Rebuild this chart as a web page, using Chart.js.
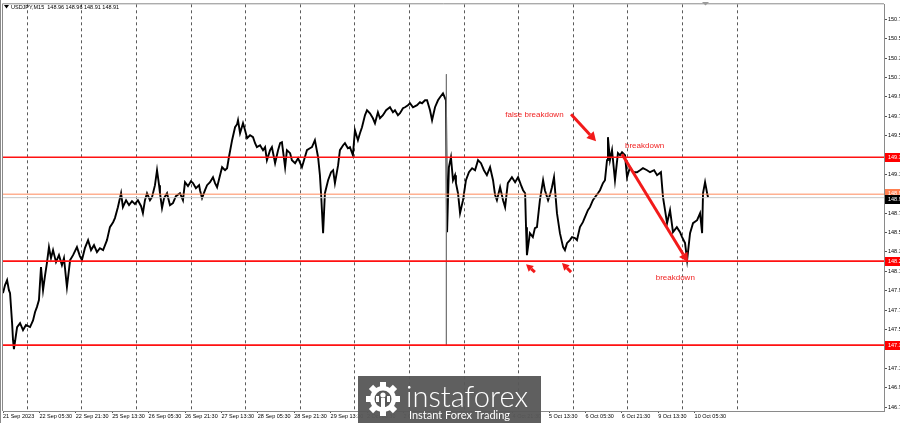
<!DOCTYPE html>
<html>
<head>
<meta charset="utf-8">
<title>USDJPY M15</title>
<script src="https://cdn.jsdelivr.net/npm/chart.js@4.4.0/dist/chart.umd.min.js"></script>
<style>
  html, body { margin: 0; padding: 0; background: #fff; }
  #wrap { position: relative; width: 900px; height: 423px; }
</style>
</head>
<body>
<div id="wrap"><canvas id="chart"></canvas></div>
<script>
// trading hours counted from 21 Sep 13:30 (weekends skipped)
const priceHours = [0,0.9,1.8,2.6,3.1,4.0,4.4,4.8,5.7,6.2,7.5,8.8,10.1,11.9,13.2,14.1,14.9,15.8,16.7,17.6,18.5,19.3,20.2,21.1,22.0,23.3,24.6,25.9,26.8,28.1,29.5,30.8,32.5,33.8,34.7,36.0,37.4,38.7,40.0,41.3,42.6,44.0,45.7,47.0,48.4,49.2,50.5,51.9,52.7,54.1,55.4,56.7,58.0,59.3,60.7,61.5,62.4,63.3,64.6,65.5,66.8,67.7,68.6,69.0,69.9,70.8,72.1,73.4,74.7,76.0,77.8,79.1,80.0,81.3,82.6,83.5,84.8,86.2,86.6,87.5,88.8,89.7,91.0,92.3,93.2,94.1,95.4,96.3,97.6,98.5,99.3,100.7,102.0,102.9,103.3,104.2,105.5,106.4,107.3,108.6,109.9,110.8,111.6,113.0,114.3,115.2,116.0,117.4,118.2,119.6,120.9,121.8,122.6,124.0,124.8,126.2,127.0,128.4,129.7,131.4,132.3,133.6,134.9,135.8,137.1,138.5,139.3,139.8,140.7,141.5,142.9,144.2,145.1,145.9,147.3,148.1,149.5,150.3,151.6,152.5,153.8,154.7,156.0,156.9,157.8,159.1,160.0,161.3,162.6,163.5,164.8,165.7,167.0,168.4,170.1,171.4,172.3,173.6,174.5,175.8,176.7,178.0,178.9,180.2,182.0,183.3,184.2,185.5,186.4,187.7,188.6,189.9,191.2,192.1,193.4,194.7,
  195.2,196.0,196.9,197.8,198.7,199.1,200.0,200.9,202.2,203.5,204.8,206.2,207.5,208.8,210.1,211.4,212.7,214.1,215.4,216.3,217.1,218.5,219.8,220.7,221.9,223.7,225.1,226.4,227.7,228.6,229.5,229.9,230.3,231.6,232.9,233.8,234.7,236.0,237.4,238.2,239.6,240.4,241.3,242.2,243.5,244.8,246.2,247.0,247.9,249.2,250.1,251.4,252.3,253.6,254.9,255.8,257.1,258.0,259.3,260.2,261.5,262.4,263.7,264.6,265.5,265.9,266.8,267.7,269.0,270.3,271.2,272.1,273.4,274.3,275.6,277.0,278.7,280.0,281.3,283.1,284.4,286.2,287.5,289.2,290.1,291.0,291.9,293.2,294.5,296.2,297.6,298.5,299.8,300.7,302.0,303.3,305.1,306.4,307.3,307.7,308.6,309.5,309.9];

const prices = [147.925,148.008,148.060,147.956,147.925,147.616,147.441,147.348,147.493,147.575,147.616,147.544,147.596,147.575,147.643,147.730,147.781,147.853,148.194,147.956,148.111,148.235,148.400,148.286,148.369,148.245,148.317,148.214,148.286,147.987,148.266,148.317,148.400,148.307,148.266,148.389,148.472,148.369,148.420,148.348,148.389,148.369,148.472,148.606,148.657,148.699,148.812,148.956,148.812,148.884,148.833,148.874,148.843,148.884,148.822,148.750,148.884,148.956,148.884,148.915,149.039,149.193,149.039,148.956,148.802,148.905,148.956,148.833,148.853,148.925,148.956,148.884,149.070,149.029,149.080,149.060,149.008,149.039,148.987,148.905,148.987,149.039,149.070,149.121,149.060,149.018,149.142,149.224,149.193,149.214,149.327,149.503,149.637,149.668,149.709,149.575,149.678,149.606,149.523,149.554,149.534,149.472,149.431,149.451,149.400,149.431,149.297,149.400,149.431,149.266,149.400,149.472,149.482,149.224,149.400,149.369,149.297,149.266,149.317,149.224,149.297,149.400,149.420,149.431,149.503,149.327,149.142,148.956,148.544,148.956,149.090,149.173,149.193,149.060,149.245,149.400,149.451,149.472,149.420,149.431,149.348,149.606,149.503,149.575,149.637,149.760,149.812,149.781,149.729,149.678,149.791,149.729,149.760,149.812,149.843,149.791,149.812,149.760,149.781,149.833,149.843,149.864,149.884,149.843,149.864,149.895,149.884,149.915,149.915,149.812,149.709,149.843,149.915,149.946,149.987,149.915,
  148.554,149.224,149.327,149.090,149.142,149.060,148.956,148.750,148.884,149.090,149.173,149.214,149.193,149.297,149.266,149.193,149.142,149.224,149.090,148.936,148.884,149.018,148.884,148.812,149.060,149.121,149.070,149.121,149.039,148.987,148.956,148.606,148.317,148.544,148.503,148.596,148.606,148.884,149.090,148.987,148.884,148.936,149.018,149.121,148.750,148.544,148.400,148.369,148.441,148.472,148.503,148.493,148.472,148.606,148.657,148.709,148.781,148.812,148.884,148.915,148.956,148.987,149.060,149.090,149.297,149.534,149.297,149.400,149.090,149.369,149.348,149.379,149.348,149.121,149.224,149.173,149.173,149.193,149.214,149.193,149.173,149.193,149.142,149.173,148.915,148.781,148.647,148.781,148.554,148.606,148.554,148.503,148.441,148.266,148.544,148.647,148.678,148.750,148.544,148.956,149.070,148.956,148.915];

// the 3 Oct spike bar (high, low)
const spikeHour = 194.9;
const spikeRange = [150.183, 147.389];

const labelHours = [0,16,32,48,64,80,96,112,128,144,160,176,192,208,224,240,256,272,288,304];
const tickLabels = ['21 Sep 2023','22 Sep 05:30','22 Sep 21:30','25 Sep 13:30','26 Sep 05:30','26 Sep 21:30',
  '27 Sep 13:30','28 Sep 05:30','28 Sep 21:30','29 Sep 13:30','2 Oct 05:30','2 Oct 21:30','3 Oct 13:30',
  '4 Oct 05:30','4 Oct 21:30','5 Oct 13:30','6 Oct 05:30','6 Oct 21:30','9 Oct 13:30','10 Oct 05:30'];
// day separators (midnight)
const gridHours = [10.5,34.5,58.5,82.5,106.5,130.5,154.5,178.5,202.5,226.5,250.5,274.5,298.5,322.5];
const yTicks = [146.75,146.95,147.15,147.35,147.55,147.75,147.95,148.15,148.35,148.55,148.75,148.95,149.15,149.35,149.55,149.75,149.95,150.15,150.35,150.55,150.75];

const redLevels = [149.327, 148.255, 147.389];
const orangeLevel = 148.946;
const bidLevel = 148.910;
const ohlc = ['148.96', '148.96', '148.91', '148.91'];

// arrows: [fromHour, fromPrice, toHour, toPrice]
const arrows = [
  [249.7, 149.771, 260.7, 149.492],
  [272.1, 149.358, 301.1, 148.245],
  [233.8, 148.142, 229.9, 148.224],
  [249.7, 148.142, 245.7, 148.235]
];
const notes = [
  { text: 'false breakdown', hour: 220.8, price: 149.762 },
  { text: 'breakdown', hour: 273.4, price: 149.440 },
  { text: 'breakdown', hour: 286.9, price: 148.080 }
];

const X_MAX = 387.25;
const Y_MIN = 146.709, Y_MAX = 150.905;

const priceData = priceHours.map((h, i) => ({ x: h, y: prices[i] }));
const flat = v => [{ x: 0, y: v }, { x: X_MAX, y: v }];

function drawArrow(ctx, x1, y1, x2, y2, w, head) {
  const a = Math.atan2(y2 - y1, x2 - x1);
  const bx = x2 - Math.cos(a) * head, by = y2 - Math.sin(a) * head;
  ctx.lineWidth = w;
  ctx.beginPath(); ctx.moveTo(x1, y1); ctx.lineTo(bx, by); ctx.stroke();
  ctx.beginPath();
  ctx.moveTo(x2, y2);
  ctx.lineTo(bx + Math.sin(a) * head * 0.55, by - Math.cos(a) * head * 0.55);
  ctx.lineTo(bx - Math.sin(a) * head * 0.55, by + Math.cos(a) * head * 0.55);
  ctx.closePath(); ctx.fill();
}

function axisBox(ctx, y, bg, text) {
  ctx.fillStyle = bg;
  ctx.fillRect(885, Math.round(y) - 4, 15, 9);
  ctx.fillStyle = '#fff';
  ctx.font = '5.5px "Liberation Sans"';
  ctx.textBaseline = 'middle';
  ctx.textAlign = 'left';
  ctx.fillText(text, 888, Math.round(y) + 0.5);
}

const overlay = {
  id: 'overlay',
  beforeDatasetsDraw(chart) {
    const { ctx, chartArea: a, scales: { x } } = chart;
    ctx.save();
    ctx.strokeStyle = '#5a5a5a';
    ctx.lineWidth = 1;
    ctx.setLineDash([3, 3]);
    gridHours.forEach(h => {
      const px = Math.round(x.getPixelForValue(h)) + 0.5;
      ctx.beginPath(); ctx.moveTo(px, a.top); ctx.lineTo(px, a.bottom); ctx.stroke();
    });
    ctx.restore();
  },
  afterDatasetsDraw(chart) {
    const { ctx, scales: { x, y } } = chart;
    ctx.save();
    ctx.strokeStyle = '#f21a1a';
    ctx.fillStyle = '#f21a1a';
    ctx.lineCap = 'butt';
    arrows.forEach((r, i) => {
      const big = i < 2;
      drawArrow(ctx, x.getPixelForValue(r[0]), y.getPixelForValue(r[1]),
        x.getPixelForValue(r[2]), y.getPixelForValue(r[3]), 3, big ? 9 : 7);
    });
    ctx.font = '8px "Liberation Sans"';
    ctx.textBaseline = 'middle';
    ctx.textAlign = 'left';
    ctx.fillStyle = '#f02222';
    notes.forEach(n => ctx.fillText(n.text, x.getPixelForValue(n.hour), y.getPixelForValue(n.price)));
    ctx.restore();
  },
  afterDraw(chart) {
    const { ctx, chartArea: a, scales: { y } } = chart;
    ctx.save();
    // frame
    ctx.strokeStyle = '#8a8a8a';
    ctx.lineWidth = 1;
    ctx.beginPath();
    ctx.moveTo(a.left - 0.5, a.bottom); ctx.lineTo(a.left - 0.5, a.top - 0.5); ctx.lineTo(a.right, a.top - 0.5);
    ctx.stroke();
    ctx.beginPath(); ctx.moveTo(0.5, 0); ctx.lineTo(0.5, 423); ctx.stroke();

    // price labels on the axis
    redLevels.forEach(v => axisBox(ctx, y.getPixelForValue(v), '#ff0000', v.toFixed(3)));
    axisBox(ctx, y.getPixelForValue(orangeLevel) - 1, '#ff7f50', orangeLevel.toFixed(3));
    axisBox(ctx, y.getPixelForValue(bidLevel) + 1, '#000', bidLevel.toFixed(3));

    // symbol caption
    ctx.fillStyle = '#000';
    ctx.beginPath(); ctx.moveTo(4, 5); ctx.lineTo(9, 5); ctx.lineTo(6.5, 8.5); ctx.closePath(); ctx.fill();
    ctx.font = '5.5px "Liberation Sans"';
    ctx.textBaseline = 'middle';
    ctx.textAlign = 'left';
    ctx.fillText('USDJPY,M15  ' + ohlc.join(' '), 11, 7);

    // chart shift marker
    ctx.fillStyle = '#9a9a9a';
    ctx.beginPath(); ctx.moveTo(702, 2); ctx.lineTo(709, 2); ctx.lineTo(705.5, 5.5); ctx.closePath(); ctx.fill();

    // watermark
    ctx.fillStyle = 'rgba(88,88,88,0.96)';
    ctx.fillRect(358, 376, 183, 47);
    const cx = 383, cy = 399;
    ctx.fillStyle = '#fff';
    for (let k = 0; k < 8; k++) {
      const t = k * Math.PI / 4;
      ctx.save(); ctx.translate(cx, cy); ctx.rotate(t);
      ctx.fillRect(-3, -17, 6, 6);
      ctx.restore();
    }
    ctx.beginPath(); ctx.arc(cx, cy, 13, 0, Math.PI * 2); ctx.fill();
    ctx.fillStyle = 'rgb(88,88,88)';
    ctx.beginPath(); ctx.arc(cx, cy, 8.5, 0, Math.PI * 2); ctx.fill();
    ctx.fillStyle = '#fff';
    ctx.beginPath(); ctx.arc(cx, cy - 4, 2.6, 0, Math.PI * 2); ctx.fill();
    ctx.fillRect(cx - 2, cy - 1, 4, 12);
    ctx.fillRect(cx - 7, cy - 3, 3, 6);
    ctx.fillRect(cx + 4, cy - 3, 3, 6);
    ctx.font = '300 29px Lato';
    ctx.textBaseline = 'alphabetic';
    ctx.fillText('instaforex', 406, 407, 129);
    ctx.font = '11px Lato';
    ctx.fillText('Instant Forex Trading', 409, 419, 101);
    ctx.restore();
  }
};

Chart.defaults.font.family = '"Liberation Sans", Arial, sans-serif';

new Chart(document.getElementById('chart'), {
  type: 'line',
  data: {
    datasets: [
      { data: flat(bidLevel), borderColor: '#c8c8c8', borderWidth: 1 },
      { data: flat(orangeLevel), borderColor: '#ff8a5c', borderWidth: 1 },
      ...redLevels.map(v => ({ data: flat(v), borderColor: '#ff1111', borderWidth: 1.7 })),
      { data: [{ x: spikeHour, y: spikeRange[0] }, { x: spikeHour, y: spikeRange[1] }], borderColor: '#777', borderWidth: 1 },
      { data: priceData, borderColor: '#000', borderWidth: 1.9 }
    ]
  },
  options: {
    responsive: true,
    maintainAspectRatio: false,
    animation: false,
    events: [],
    layout: { padding: { left: 3, top: 4, right: 0, bottom: 0 } },
    elements: { point: { radius: 0 }, line: { tension: 0, borderJoinStyle: 'miter' } },
    plugins: { legend: { display: false }, tooltip: { enabled: false } },
    scales: {
      x: {
        type: 'linear',
        min: 0,
        max: X_MAX,
        afterBuildTicks: s => { s.ticks = labelHours.map(v => ({ value: v })); },
        afterFit: s => { s.height = 12; },
        grid: { drawOnChartArea: false, drawTicks: true, tickLength: 2, color: '#555' },
        border: { display: true, color: '#8a8a8a' },
        ticks: {
          autoSkip: false, maxRotation: 0, align: 'start', padding: 0,
          color: '#000', font: { size: 5.5 },
          callback: v => tickLabels[labelHours.indexOf(v)] || ''
        }
      },
      y: {
        type: 'linear',
        position: 'right',
        min: Y_MIN,
        max: Y_MAX,
        afterBuildTicks: s => { s.ticks = yTicks.map(v => ({ value: v })); },
        afterFit: s => { s.width = 16; },
        grid: { drawOnChartArea: false, drawTicks: true, tickLength: 3, color: '#555' },
        border: { display: true, color: '#8a8a8a' },
        ticks: {
          autoSkip: false, padding: 1, color: '#000', font: { size: 5.5 },
          callback: v => v.toFixed(3)
        }
      }
    }
  },
  plugins: [overlay]
});
</script>
</body>
</html>
